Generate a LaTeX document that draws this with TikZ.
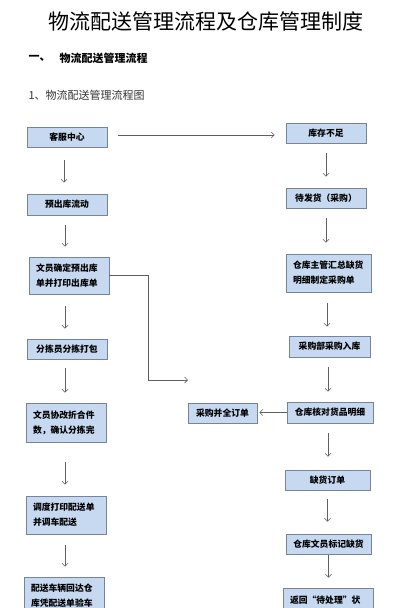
\documentclass[tikz,border=0pt]{standalone}
\usepackage{fontspec}
\newfontfamily\cjk{Noto Sans CJK SC}
\usetikzlibrary{arrows.meta}
\definecolor{boxfill}{HTML}{C6D9F1}
\definecolor{boxline}{HTML}{76849A}
\definecolor{arrcol}{HTML}{606060}
\begin{document}
\begin{tikzpicture}[x=1pt,y=-1pt,
  box/.style={draw=boxline, fill=boxfill, line width=0.7pt, inner sep=0pt,
    minimum height=20pt, font=\cjk\bfseries\fontsize{8.8}{15}\selectfont},
  tallbox/.style={box, align=left, inner xsep=7pt, minimum height=38pt},
  arr/.style={draw=arrcol, line width=0.6pt, -{Straight Barb[length=3pt,width=6pt]}},
  plain/.style={draw=arrcol, line width=0.6pt}]
\useasboundingbox (0,0) rectangle (400,608);
\clip (0,0) rectangle (400,608);
\fill[white] (0,0) rectangle (400,608);

% headings
\node[font=\cjk\fontsize{21}{24}\selectfont] (title) at (206,22) {物流配送管理流程及仓库管理制度};
\node[font=\cjk\bfseries\fontsize{11}{13}\selectfont, anchor=west] (h1a) at (25,58) {一、};
\node[font=\cjk\bfseries\fontsize{11}{13}\selectfont, anchor=west] (h1b) at (56,58) {物流配送管理流程};
\node[font=\cjk\fontsize{11}{13}\selectfont, text=black!80, anchor=west] (h2) at (25,95) {1、物流配送管理流程图};

% left column
\node[box, minimum width=80pt] (L1) at (67,137) {客服中心};
\node[box, minimum width=80pt, minimum height=21pt] (L2) at (67,204.5) {预出库流动};
\node[tallbox, text width=66pt, minimum height=37pt] (L3) at (69,275.5) {文员确定预出库\\单并打印出库单};
\node[box, minimum width=80pt] (L4) at (67,349) {分拣员分拣打包};
\node[tallbox, text width=66pt, minimum height=39pt] (L5) at (66,422.5) {文员协改折合件\\数，确认分拣完};
\node[tallbox, text width=66pt] (L6) at (66,515) {调度打印配送单\\并调车配送};
\node[tallbox, text width=66pt] (L7) at (64,596) {配送车辆回达仓\\库凭配送单验车};

% right column
\node[box, minimum width=80pt] (R1) at (326,133) {库存不足};
\node[box, minimum width=80pt] (R2) at (326,198) {待发货（采购）};
\node[tallbox, text width=71pt] (R3) at (328.5,273) {仓库主管汇总缺货\\明细制定采购单};
\node[box, minimum width=81pt, minimum height=21pt] (R4) at (329.5,346.5) {采购部采购入库};
\node[box, minimum width=86pt, minimum height=21pt] (R5) at (330,412.5) {仓库核对货品明细};
\node[box, minimum width=69pt] (B) at (222.5,413) {采购并全订单};
\node[box, minimum width=85pt] (R6) at (327.5,480) {缺货订单};
\node[box, minimum width=85pt] (R7) at (328.5,544) {仓库文员标记缺货};
\node[tallbox, text width=76pt] (R8) at (328,607) {返回“待处理”状\\\mbox{}};

% left arrows
\draw[arr, shorten <=13pt, shorten >=11pt] ([xshift=-3pt]L1.south) -- ([xshift=-3pt]L1.south |- L2.north);
\draw[arr, shorten <=10pt, shorten >=10pt] ([xshift=-2pt]L2.south) -- ([xshift=-2pt]L2.south |- L3.north);
\draw[arr, shorten <=12pt, shorten >=10pt] ([xshift=-4pt]L3.south) -- ([xshift=-4pt]L3.south |- L4.north);
\draw[arr, shorten <=9pt, shorten >=10pt] ([xshift=-2pt]L4.south) -- ([xshift=-2pt]L4.south |- L5.north);
\draw[arr, shorten <=20pt, shorten >=11pt] ([xshift=-1pt]L5.south) -- ([xshift=-1pt]L5.south |- L6.north);
\draw[arr, shorten <=11pt, shorten >=10pt] ([xshift=-1pt]L6.south) -- ([xshift=-1pt]L6.south |- L7.north);

% right arrows
\draw[arr, shorten <=10pt, shorten >=11pt] (R1.south) -- (R1.south |- R2.north);
\draw[arr, shorten <=10pt, shorten >=11pt] (R2.south) -- (R2.south |- R3.north);
\draw[arr, shorten <=11pt, shorten >=9pt] ([xshift=-1.5pt]R3.south) -- ([xshift=-1.5pt]R3.south |- R4.north);
\draw[arr, shorten <=10pt, shorten >=10pt] ([xshift=-1.5pt]R4.south) -- ([xshift=-1.5pt]R4.south |- R5.north);
\draw[arr, shorten <=10pt, shorten >=13pt] ([xshift=-2pt]R5.south) -- ([xshift=-2pt]R5.south |- R6.north);
\draw[arr, shorten <=9pt, shorten >=12pt] (R6.south) -- (R6.south |- R7.north);
\draw[arr, shorten <=1pt, shorten >=10pt] (R7.south) -- (R7.south |- R8.north);

% horizontal arrows
\draw[arr, shorten <=11pt, shorten >=11pt] ([yshift=2pt]L1.east) -- ([yshift=2pt]L1.east -| R1.west);
\draw[arr, shorten >=2pt] (R5.west) -- (R5.west -| B.east);

% bent connector
\coordinate (bendend) at (188,380);
\draw[arr] (L3.east) -- (148,0 |- L3.east) -- (148,0 |- bendend) -- (bendend);
\end{tikzpicture}
\end{document}
